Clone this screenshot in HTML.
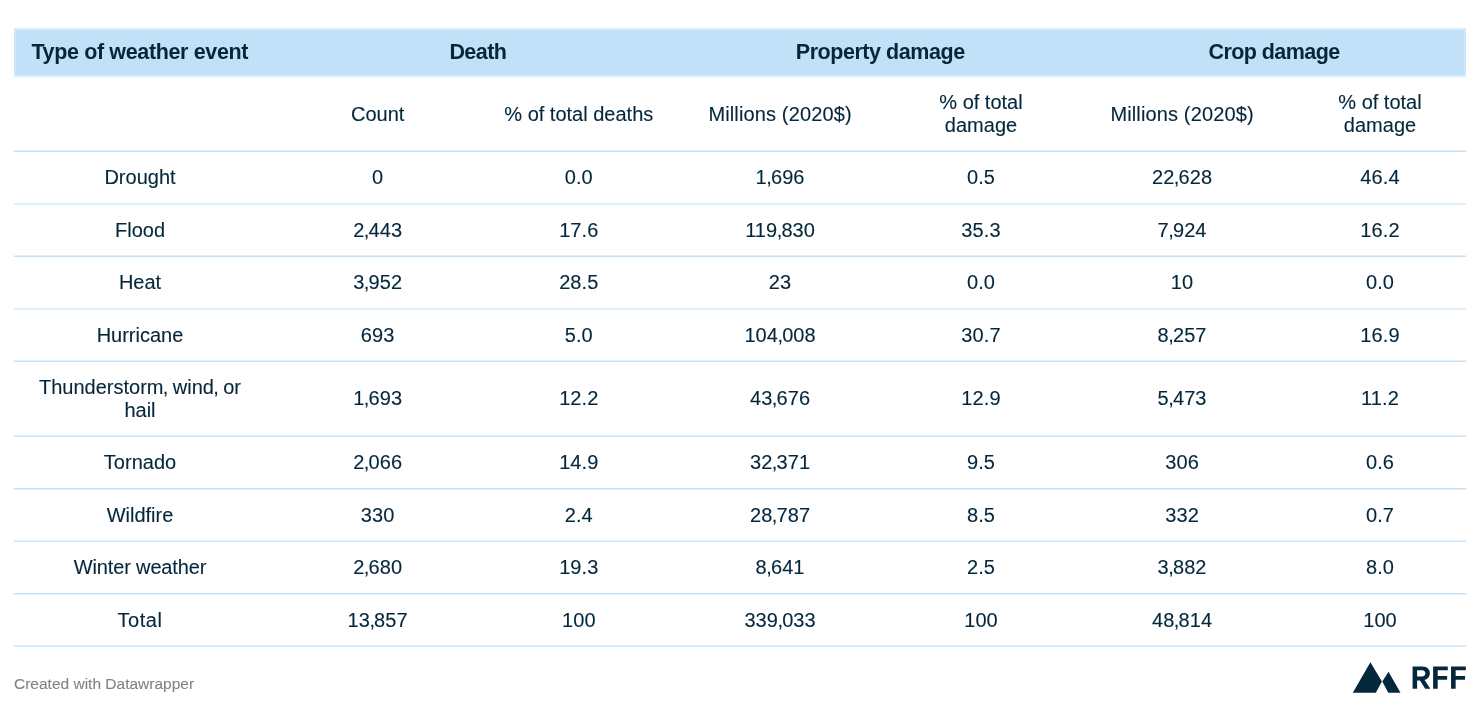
<!DOCTYPE html>
<html><head><meta charset="utf-8"><title>Table</title>
<style>
html,body{margin:0;padding:0;background:#fff;}
body{width:1480px;height:708px;position:relative;overflow:hidden;font-family:"Liberation Sans",sans-serif;color:#04273c;}
svg.bg{position:absolute;left:0;top:0;}
#txt{position:absolute;left:0;top:0;width:1480px;height:708px;will-change:transform;}
.c{position:absolute;width:300px;text-align:center;font-size:20px;line-height:22px;white-space:nowrap;-webkit-text-stroke:0.12px #04273c;}
.h{position:absolute;font-weight:bold;font-size:21.5px;line-height:24px;white-space:nowrap;}
.hc{width:400px;text-align:center;}
.cm{margin-left:-0.6px;margin-right:-1px;}
.ft{position:absolute;left:14px;top:675px;font-size:15.5px;line-height:18px;color:#828282;-webkit-text-stroke:0.1px #828282;white-space:nowrap;}
</style></head><body>

<svg class="bg" width="1480" height="708" viewBox="0 0 1480 708">
<rect x="14" y="28" width="1452" height="49" fill="#dbedfc"/>
<rect x="14" y="29" width="1452" height="47" fill="#cde3f8"/>
<rect x="15" y="29" width="1450" height="47" fill="#cff1ff"/>
<rect x="15" y="30" width="1450" height="45" fill="#cbecff"/>
<rect x="16" y="30" width="1448" height="45" fill="#c2e0f8"/>
<rect x="15" y="29" width="1" height="1" fill="#d9fbff"/>
<rect x="1464" y="29" width="1" height="1" fill="#d9fbff"/>
<rect x="15" y="75" width="1" height="1" fill="#d9fbff"/>
<rect x="1464" y="75" width="1" height="1" fill="#d9fbff"/>
<rect x="14" y="29" width="1" height="1" fill="#c6dcf6"/>
<rect x="1465" y="29" width="1" height="1" fill="#c6dcf6"/>
<rect x="14" y="75" width="1" height="1" fill="#c6dcf6"/>
<rect x="1465" y="75" width="1" height="1" fill="#c6dcf6"/>
<rect x="14" y="28" width="1" height="1" fill="#e2f0fc"/>
<rect x="1465" y="28" width="1" height="1" fill="#e2f0fc"/>
<rect x="14" y="76" width="1" height="1" fill="#e2f0fc"/>
<rect x="1465" y="76" width="1" height="1" fill="#e2f0fc"/>
<rect x="14" y="150" width="1452" height="1" fill="#e2effb"/>
<rect x="14" y="151" width="1452" height="1" fill="#c3e1f8"/>
<rect x="14" y="203" width="1452" height="1" fill="#d4f6ff"/>
<rect x="14" y="204" width="1452" height="1" fill="#e9eefa"/>
<rect x="14" y="255" width="1452" height="1" fill="#e2effb"/>
<rect x="14" y="256" width="1452" height="1" fill="#c3e1f8"/>
<rect x="14" y="308" width="1452" height="1" fill="#d4f6ff"/>
<rect x="14" y="309" width="1452" height="1" fill="#e9eefa"/>
<rect x="14" y="360" width="1452" height="1" fill="#e2effb"/>
<rect x="14" y="361" width="1452" height="1" fill="#c3e1f8"/>
<rect x="14" y="435" width="1452" height="1" fill="#e5eefb"/>
<rect x="14" y="436" width="1452" height="1" fill="#c8eaff"/>
<rect x="14" y="488" width="1452" height="1" fill="#c2e0f8"/>
<rect x="14" y="489" width="1452" height="1" fill="#e3f0fc"/>
<rect x="14" y="540" width="1452" height="1" fill="#e5eefb"/>
<rect x="14" y="541" width="1452" height="1" fill="#c8eaff"/>
<rect x="14" y="593" width="1452" height="1" fill="#c2e0f8"/>
<rect x="14" y="594" width="1452" height="1" fill="#e3f0fc"/>
<rect x="14" y="645" width="1452" height="1" fill="#e5eefb"/>
<rect x="14" y="646" width="1452" height="1" fill="#c8eaff"/>
<path d="M1352.8 692.8 L1370.4 662.2 L1381.9 681.6 L1375.8 692.8 Z" fill="#04273c"/>
<path d="M1388.5 671.8 L1400.5 692.8 L1388.3 692.8 L1382.3 681.6 Z" fill="#04273c"/>
<path fill-rule="evenodd" fill="#04273c" d="M1412.6 666.4 H1422.4 C1427 666.4 1429.9 669.2 1429.9 673.3 C1429.9 676.7 1427.9 679.2 1424.6 680 L1430.3 688.7 H1425.2 L1420 680.4 H1417.1 V688.7 H1412.6 Z M1417.1 670.2 V676.5 H1422.1 C1424.2 676.5 1425.4 675.2 1425.4 673.35 C1425.4 671.5 1424.2 670.2 1422.1 670.2 Z"/>
<path fill="#04273c" d="M1433.1 666.4 H1447.8 V670.2 H1437.7 V676.1 H1447.1 V679.8 H1437.7 V688.7 H1433.1 Z"/>
<path fill="#04273c" d="M1451.05 666.4 H1465.85 V670.2 H1455.65 V676.1 H1465.05 V679.8 H1455.65 V688.7 H1451.05 Z"/>
</svg>
<div id="txt">
<div class="h" style="left:31.4px;top:40px;letter-spacing:-0.36px">Type of weather event</div>
<div class="h hc" style="left:277.88px;top:40px;letter-spacing:-0.55px">Death</div>
<div class="h hc" style="left:680.23px;top:40px;letter-spacing:-0.45px">Property damage</div>
<div class="h hc" style="left:1074.08px;top:40px;letter-spacing:-0.56px">Crop damage</div>
<div class="c" style="left:227.70px;top:103px;">Count</div>
<div class="c" style="left:428.80px;top:103px;">% of total deaths</div>
<div class="c" style="left:630.10px;top:103px;letter-spacing:0.14px">Millions (2020$)</div>
<div class="c" style="left:831.00px;top:91px;">% of total</div>
<div class="c" style="left:831.00px;top:114px;">damage</div>
<div class="c" style="left:1032.10px;top:103px;letter-spacing:0.14px">Millions (2020$)</div>
<div class="c" style="left:1230.00px;top:91px;">% of total</div>
<div class="c" style="left:1230.00px;top:114px;">damage</div>
<div class="c" style="left:-10.00px;top:166px;">Drought</div>
<div class="c" style="left:227.70px;top:166px;letter-spacing:0.1px">0</div>
<div class="c" style="left:428.80px;top:166px;letter-spacing:0.1px">0.0</div>
<div class="c" style="left:630.10px;top:166px;letter-spacing:0.1px">1<span class="cm">,</span>696</div>
<div class="c" style="left:831.00px;top:166px;letter-spacing:0.1px">0.5</div>
<div class="c" style="left:1032.10px;top:166px;letter-spacing:0.1px">22<span class="cm">,</span>628</div>
<div class="c" style="left:1230.00px;top:166px;letter-spacing:0.1px">46.4</div>
<div class="c" style="left:-10.00px;top:219px;">Flood</div>
<div class="c" style="left:227.70px;top:219px;letter-spacing:0.1px">2<span class="cm">,</span>443</div>
<div class="c" style="left:428.80px;top:219px;letter-spacing:0.1px">17.6</div>
<div class="c" style="left:630.10px;top:219px;letter-spacing:0.1px">119<span class="cm">,</span>830</div>
<div class="c" style="left:831.00px;top:219px;letter-spacing:0.1px">35.3</div>
<div class="c" style="left:1032.10px;top:219px;letter-spacing:0.1px">7<span class="cm">,</span>924</div>
<div class="c" style="left:1230.00px;top:219px;letter-spacing:0.1px">16.2</div>
<div class="c" style="left:-10.00px;top:271px;">Heat</div>
<div class="c" style="left:227.70px;top:271px;letter-spacing:0.1px">3<span class="cm">,</span>952</div>
<div class="c" style="left:428.80px;top:271px;letter-spacing:0.1px">28.5</div>
<div class="c" style="left:630.10px;top:271px;letter-spacing:0.1px">23</div>
<div class="c" style="left:831.00px;top:271px;letter-spacing:0.1px">0.0</div>
<div class="c" style="left:1032.10px;top:271px;letter-spacing:0.1px">10</div>
<div class="c" style="left:1230.00px;top:271px;letter-spacing:0.1px">0.0</div>
<div class="c" style="left:-10.00px;top:324px;">Hurricane</div>
<div class="c" style="left:227.70px;top:324px;letter-spacing:0.1px">693</div>
<div class="c" style="left:428.80px;top:324px;letter-spacing:0.1px">5.0</div>
<div class="c" style="left:630.10px;top:324px;letter-spacing:0.1px">104<span class="cm">,</span>008</div>
<div class="c" style="left:831.00px;top:324px;letter-spacing:0.1px">30.7</div>
<div class="c" style="left:1032.10px;top:324px;letter-spacing:0.1px">8<span class="cm">,</span>257</div>
<div class="c" style="left:1230.00px;top:324px;letter-spacing:0.1px">16.9</div>
<div class="c" style="left:-10.00px;top:376px;word-spacing:-0.2px">Thunderstorm<span class="cm">,</span> wind<span class="cm">,</span> or</div>
<div class="c" style="left:-10.00px;top:399px;">hail</div>
<div class="c" style="left:227.70px;top:387px;letter-spacing:0.1px">1<span class="cm">,</span>693</div>
<div class="c" style="left:428.80px;top:387px;letter-spacing:0.1px">12.2</div>
<div class="c" style="left:630.10px;top:387px;letter-spacing:0.1px">43<span class="cm">,</span>676</div>
<div class="c" style="left:831.00px;top:387px;letter-spacing:0.1px">12.9</div>
<div class="c" style="left:1032.10px;top:387px;letter-spacing:0.1px">5<span class="cm">,</span>473</div>
<div class="c" style="left:1230.00px;top:387px;letter-spacing:0.1px">11.2</div>
<div class="c" style="left:-10.00px;top:451px;">Tornado</div>
<div class="c" style="left:227.70px;top:451px;letter-spacing:0.1px">2<span class="cm">,</span>066</div>
<div class="c" style="left:428.80px;top:451px;letter-spacing:0.1px">14.9</div>
<div class="c" style="left:630.10px;top:451px;letter-spacing:0.1px">32<span class="cm">,</span>371</div>
<div class="c" style="left:831.00px;top:451px;letter-spacing:0.1px">9.5</div>
<div class="c" style="left:1032.10px;top:451px;letter-spacing:0.1px">306</div>
<div class="c" style="left:1230.00px;top:451px;letter-spacing:0.1px">0.6</div>
<div class="c" style="left:-10.00px;top:504px;">Wildfire</div>
<div class="c" style="left:227.70px;top:504px;letter-spacing:0.1px">330</div>
<div class="c" style="left:428.80px;top:504px;letter-spacing:0.1px">2.4</div>
<div class="c" style="left:630.10px;top:504px;letter-spacing:0.1px">28<span class="cm">,</span>787</div>
<div class="c" style="left:831.00px;top:504px;letter-spacing:0.1px">8.5</div>
<div class="c" style="left:1032.10px;top:504px;letter-spacing:0.1px">332</div>
<div class="c" style="left:1230.00px;top:504px;letter-spacing:0.1px">0.7</div>
<div class="c" style="left:-10.00px;top:556px;letter-spacing:-0.15px">Winter weather</div>
<div class="c" style="left:227.70px;top:556px;letter-spacing:0.1px">2<span class="cm">,</span>680</div>
<div class="c" style="left:428.80px;top:556px;letter-spacing:0.1px">19.3</div>
<div class="c" style="left:630.10px;top:556px;letter-spacing:0.1px">8<span class="cm">,</span>641</div>
<div class="c" style="left:831.00px;top:556px;letter-spacing:0.1px">2.5</div>
<div class="c" style="left:1032.10px;top:556px;letter-spacing:0.1px">3<span class="cm">,</span>882</div>
<div class="c" style="left:1230.00px;top:556px;letter-spacing:0.1px">8.0</div>
<div class="c" style="left:-10.00px;top:609px;letter-spacing:0.6px">Total</div>
<div class="c" style="left:227.70px;top:609px;letter-spacing:0.1px">13<span class="cm">,</span>857</div>
<div class="c" style="left:428.80px;top:609px;letter-spacing:0.1px">100</div>
<div class="c" style="left:630.10px;top:609px;letter-spacing:0.1px">339<span class="cm">,</span>033</div>
<div class="c" style="left:831.00px;top:609px;letter-spacing:0.1px">100</div>
<div class="c" style="left:1032.10px;top:609px;letter-spacing:0.1px">48<span class="cm">,</span>814</div>
<div class="c" style="left:1230.00px;top:609px;letter-spacing:0.1px">100</div>
<div class="ft">Created with Datawrapper</div>
</div>
</body></html>
